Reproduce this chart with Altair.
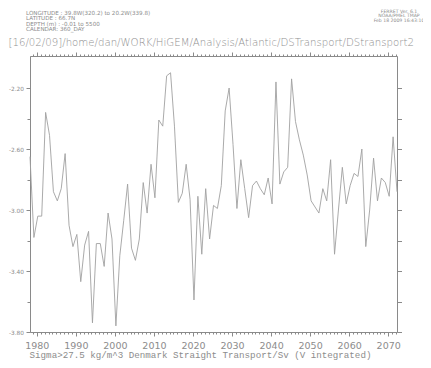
import altair as alt
import pandas as pd

# ---- data ----
years = [1978.25 + i for i in range(95)]
transport = [
    -2.65, -3.18, -3.04, -3.04, -2.36, -2.51, -2.88, -2.94, -2.86, -2.63,
    -3.10, -3.24, -3.16, -3.47, -3.23, -3.14, -3.74, -3.22, -3.22, -3.37,
    -3.02, -3.19, -3.76, -3.30, -3.07, -2.83, -3.25, -3.33, -3.19, -2.82,
    -3.02, -2.70, -2.92, -2.41, -2.45, -2.12, -2.10, -2.45, -2.95, -2.89,
    -2.70, -2.93, -3.59, -2.91, -3.29, -2.86, -3.19, -2.97, -2.99, -2.84,
    -2.35, -2.20, -2.57, -2.99, -2.67, -2.86, -3.05, -2.84, -2.81, -2.86,
    -2.90, -2.79, -2.96, -2.16, -2.83, -2.75, -2.72, -2.14, -2.42, -2.54,
    -2.64, -2.77, -2.94, -2.98, -3.02, -2.86, -2.94, -2.67, -3.29, -3.00,
    -2.72, -2.96, -2.84, -2.76, -2.78, -2.60, -3.24, -3.00, -2.66, -2.94,
    -2.79, -2.82, -2.91, -2.52, -2.88,
]
x_domain = [1978.25, 2072.25]
y_domain = [-3.8, -1.99]
x_ticks = list(range(1979, 2073))
y_ticks = [-3.8, -3.6, -3.4, -3.2, -3.0, -2.8, -2.6, -2.4, -2.2]

title_main = "[16/02/09]/home/dan/WORK/HiGEM/Analysis/Atlantic/DSTransport/DStransport2"
header_left = "LONGITUDE : 39.8W(320.2) to 20.2W(339.8)\nLATITUDE : 66.7N\nDEPTH (m) : -0.01 to 5500\nCALENDAR: 360_DAY"
header_right = "FERRET Ver. 6.1\nNOAA/PMEL TMAP\nFeb 18 2009 16:43:10"
x_title = "Sigma>27.5 kg/m^3 Denmark Straight Transport/Sv (V integrated)"

df = pd.DataFrame({"year": years, "transport": transport})

GREY = "#8a8a8a"
TXT = "#8c8c8c"
W, H = 367, 276

xs = alt.Scale(domain=x_domain, nice=False, zero=False)
ys = alt.Scale(domain=y_domain, nice=False, zero=False)

dec_test = "datum.value % 10 === 0"
ylab_test = "abs(round(datum.value*10)) % 4 === 2"

common = dict(grid=False, domainColor=GREY, tickColor=GREY, domainWidth=1, tickWidth=1)

line = alt.Chart(df).mark_line(color="#a0a0a0", strokeWidth=0.9).encode(
    x=alt.X("year:Q", scale=xs, axis=alt.Axis(
        orient="bottom", values=x_ticks,
        labelExpr="datum.value % 10 === 0 ? format(datum.value, 'd') : ''",
        tickSize={"condition": {"test": dec_test, "value": 4}, "value": 2},
        labelFont="DejaVu Sans", labelFontSize=9.5, labelColor=TXT, labelPadding=4,
        labelFlush=False, labelOverlap=False,
        title=x_title, titleFont="Liberation Mono", titleFontSize=9.2, titleFontWeight="normal",
        titleColor=TXT, titleX=170, titleY=22, titleAlign="center", titleBaseline="middle",
        **common)),
    y=alt.Y("transport:Q", scale=ys, axis=alt.Axis(
        orient="left", values=y_ticks,
        labelExpr=f"{ylab_test} ? replace(format(datum.value, '.2f'), '\u2212', '-') : ''",
        tickSize={"condition": {"test": ylab_test, "value": 4}, "value": 3},
        labelFont="DejaVu Sans", labelFontSize=5.8, labelColor=TXT, labelPadding=2.5,
        labelFlush=False, labelOverlap=False, title=None,
        **common)),
)

mirror = alt.Chart(df).mark_line(opacity=0).encode(
    x=alt.X("year:Q", scale=xs, axis=alt.Axis(
        orient="top", values=x_ticks, labels=False, title=None,
        tickSize={"condition": {"test": dec_test, "value": 4}, "value": 2},
        **common)),
    y=alt.Y("transport:Q", scale=ys, axis=alt.Axis(
        orient="right", values=y_ticks, labels=False, title=None, tickSize=4.5,
        **common)),
)

t_main = alt.Chart(pd.DataFrame({"t": [title_main]})).mark_text(
    align="left", baseline="middle", font="DejaVu Sans",
    fontSize=10.2, fontWeight=300, color="#909090"
).encode(text="t:N", x=alt.value(-21.5), y=alt.value(-13))

t_left = alt.Chart(pd.DataFrame({"t": [header_left]})).mark_text(
    align="left", baseline="middle", font="DejaVu Sans", fontSize=5.6,
    lineBreak="\n", lineHeight=5.4, color=TXT
).encode(text="t:N", x=alt.value(-4), y=alt.value(-43))

t_right = alt.Chart(pd.DataFrame({"t": [header_right]})).mark_text(
    align="center", baseline="middle", font="DejaVu Sans", fontSize=4.6,
    lineBreak="\n", lineHeight=4.6, color=TXT
).encode(text="t:N", x=alt.value(369), y=alt.value(-44.5))

chart = alt.layer(line, mirror, t_main, t_left, t_right).resolve_axis(
    x="independent", y="independent"
).properties(
    width=W, height=H,
    autosize=alt.AutoSizeParams(type="none"),
    padding={"left": 22, "top": 48, "right": 26, "bottom": 28},
).configure_view(stroke=None).configure(background="white")

chart.save("out.html", embed_options={"renderer": "svg", "actions": False})
